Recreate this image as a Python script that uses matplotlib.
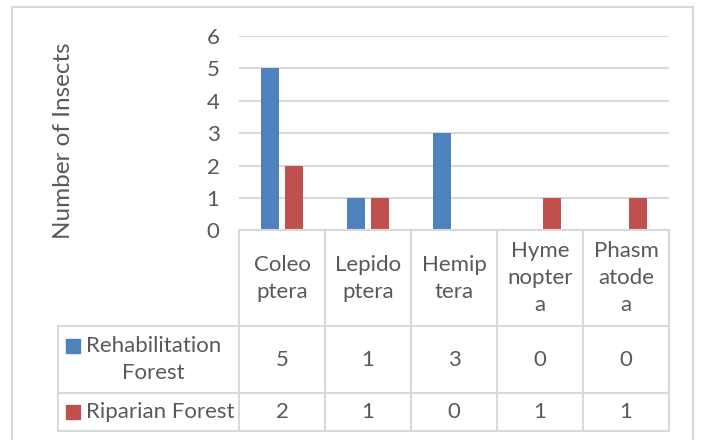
import matplotlib
matplotlib.use("Agg")
import matplotlib.pyplot as plt
from matplotlib.lines import Line2D
from matplotlib.patches import Rectangle

plt.rcParams['font.family'] = ['Lato', 'DejaVu Sans']

categories = ["Coleo\nptera", "Lepido\nptera", "Hemip\ntera", "Hyme\nnopter\na", "Phasm\natode\na"]
series_names = ["Rehabilitation\nForest", "Riparian Forest"]
rehabilitation = [5, 1, 3, 0, 0]
riparian = [2, 1, 0, 1, 1]
y_ticks = [0, 1, 2, 3, 4, 5, 6]

W, H = 703, 440
DPI = 100
TXT = "#595959"
GRID = "#d9d9d9"
BLUE = "#4f81bd"
RED = "#c0504d"
FS = 16
LS = 1.45

fig = plt.figure(figsize=(W / DPI, H / DPI), dpi=DPI)


def fx(x):
    return x / W


def fy(y):
    return 1 - y / H


def hline(x0, x1, y, color=GRID, lw=1.5):
    fig.add_artist(Line2D([fx(x0), fx(x1)], [fy(y), fy(y)], color=color, lw=lw))


def vline(x, y0, y1, color=GRID, lw=1.5):
    fig.add_artist(Line2D([fx(x), fx(x)], [fy(y0), fy(y1)], color=color, lw=lw))


# outer chart border
vline(12, 7, 445)
hline(12, 693, 7)
vline(693, 7, 445)

# plot area
left, right, top, base = 239, 669, 36, 230.5
ax = fig.add_axes([fx(left), fy(base), fx(right - left), (base - top) / H])
n = len(categories)
xs = list(range(n))
bw = 0.215
off = 0.142
ax.bar([x - off for x in xs], rehabilitation, width=bw, color=BLUE, zorder=3)
ax.bar([x + off for x in xs], riparian, width=bw, color=RED, zorder=3)
ax.set_xlim(-0.5, n - 0.5)
ax.set_ylim(0, 6)
ax.set_yticks(y_ticks)
ax.set_yticklabels([str(t) for t in y_ticks], fontsize=FS, color=TXT)
ax.tick_params(axis='y', length=0, pad=14)
ax.set_xticks([])
ax.grid(axis='y', color=GRID, lw=1.5, zorder=0)
for s in ax.spines.values():
    s.set_visible(False)
ax.patch.set_alpha(0)

fig.text(fx(63), fy(141), "Number of Insects", rotation=90, ha='center', va='center',
         fontsize=17.5, color=TXT)

# data table
col_x = [left + (right - left) * i / n for i in range(n + 1)]
row_y = [base, 326, 393, 431]
leg_left = 58

hline(left, right, row_y[0])
for y in row_y[1:]:
    hline(leg_left, right, y)
for x in col_x:
    vline(x, row_y[0], row_y[3])
vline(leg_left, row_y[1], row_y[3])

for i, cat in enumerate(categories):
    cx = (col_x[i] + col_x[i + 1]) / 2
    fig.text(fx(cx), fy((row_y[0] + row_y[1]) / 2), cat, ha='center', va='center',
             fontsize=FS, color=TXT, linespacing=LS)
    fig.text(fx(cx), fy((row_y[1] + row_y[2]) / 2), str(rehabilitation[i]), ha='center',
             va='center', fontsize=FS, color=TXT)
    fig.text(fx(cx), fy((row_y[2] + row_y[3]) / 2), str(riparian[i]), ha='center',
             va='center', fontsize=FS, color=TXT)

# legend keys inside the table
for (name, color, r) in [(series_names[0], BLUE, 1), (series_names[1], RED, 2)]:
    cy = (row_y[r] + row_y[r + 1]) / 2
    ky = cy - 14 if "\n" in name else cy
    fig.add_artist(Rectangle((fx(66), fy(ky + 7)), fx(14), 14 / H, color=color,
                             transform=fig.transFigure))
    fig.text(fx(86), fy(cy), name, ha='left', va='center', multialignment='center',
             fontsize=FS, color=TXT, linespacing=LS)

fig.savefig("out.png", dpi=DPI)
